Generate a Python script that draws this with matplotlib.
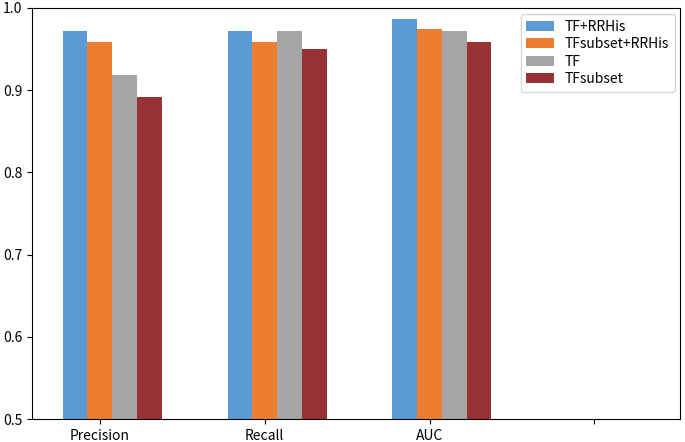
import numpy as np
import matplotlib
matplotlib.use('Agg')
import matplotlib.pyplot as plt

plt.rcParams['font.family'] = ['Noto Sans CJK SC', 'DejaVu Sans']
plt.rcParams['axes.unicode_minus'] = False

# 数据
metrics = ['Precision', 'Recall', 'AUC', '']
tf_rrhis = [0.972, 0.972, 0.987]
tfsubset_rrhis = [0.958, 0.958, 0.975]
tf_only = [0.919, 0.972, 0.972]
tfsubset = [0.892, 0.950, 0.958]

series = [tf_rrhis, tfsubset_rrhis, tf_only, tfsubset]
names = ['TF+RRHis', 'TFsubset+RRHis', 'TF', 'TFsubset']
colors = ['#5B9BD5', '#ED7D31', '#A5A5A5', '#993234']

fig = plt.figure(figsize=(6.85, 4.42), dpi=100)
ax = fig.add_axes([0.047, 0.052, 0.946, 0.930])

x = np.arange(3)
w = 0.15
for k, (vals, name, c) in enumerate(zip(series, names, colors)):
    ax.bar(x + (k - 1) * w, vals, width=w, color=c, label=name)

ax.set_xticks(np.arange(len(metrics)))
ax.set_xticklabels(metrics, fontsize=10)
ax.set_xlim(-0.41, 3.52)
ax.set_ylim(0.5, 1.0)
ax.set_yticks([0.5, 0.6, 0.7, 0.8, 0.9, 1.0])
ax.tick_params(labelsize=10)
ax.legend(loc='upper right', fontsize=10, borderaxespad=0, labelspacing=0.25,
          bbox_to_anchor=(0.992, 0.985))

plt.savefig('out.png', dpi=100)
